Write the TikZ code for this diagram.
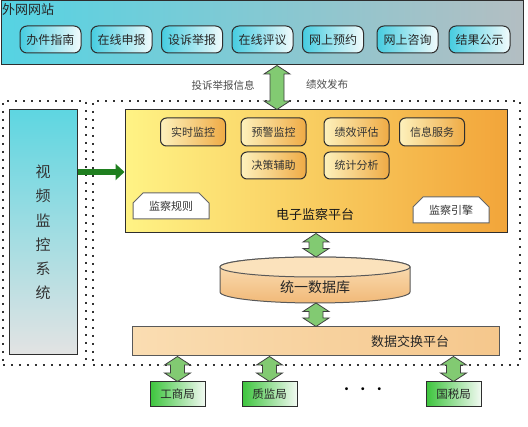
\documentclass[tikz,border=0pt]{standalone}
\usepackage{fontspec}
\newfontfamily\cjk{Noto Sans CJK SC}
\usetikzlibrary{calc,shapes.misc,arrows.meta}
\definecolor{bancyan}{HTML}{55D3E3}
\definecolor{bangray}{HTML}{B3BEC2}
\definecolor{btncyan}{HTML}{45CCE0}
\definecolor{btnwhite}{HTML}{F2FBFC}
\definecolor{platl}{HTML}{FFF385}
\definecolor{platr}{HTML}{F2A53A}
\definecolor{subl}{HTML}{FDF1BC}
\definecolor{subr}{HTML}{EFAB45}
\definecolor{vidtop}{HTML}{5ED6E1}
\definecolor{vidbot}{HTML}{E3E3E3}
\definecolor{xl}{HTML}{FADDB2}
\definecolor{xr}{HTML}{F5C78C}
\definecolor{dbtop}{HTML}{FBE2BC}
\definecolor{dbbot}{HTML}{F1B978}
\definecolor{burl}{HTML}{3CC43C}
\definecolor{burr}{HTML}{F2FAF2}
\definecolor{arrgreen}{HTML}{82CA72}
\definecolor{vidgreen}{HTML}{1F7F1F}
\definecolor{edge}{HTML}{2E2E2E}
\definecolor{dotc}{HTML}{333333}
\newcommand\fatarrow[2]{\draw[fat] let \p1=(#1), \p2=(#2) in
  (\x1,\y1) -- ++(13pt,-8.5pt) -- ++(-6pt,0pt) -- (\x1+7pt,\y2+8.5pt) -- ++(6pt,0pt)
  -- (\x1,\y2) -- ++(-13pt,8.5pt) -- ++(6pt,0pt) -- (\x1-7pt,\y1-8.5pt) -- ++(-6pt,0pt) -- cycle;}
\begin{document}
\begin{tikzpicture}[x=1pt,y=-1pt,
  f/.style={font=\cjk\fontsize{#1}{#1}\selectfont},
  banner/.style={draw=edge, line width=1pt, left color=bancyan, right color=bangray,
    minimum width=522pt, minimum height=64pt, inner sep=0pt, anchor=north west},
  btn/.style={draw=edge, line width=1pt, rounded corners=7pt, left color=btncyan, right color=btnwhite,
    minimum width=61pt, minimum height=27pt, inner sep=0pt, f=12, text=black!85},
  zone/.style={draw=dotc, line width=1.9pt, dash pattern=on 1.9pt off 6.1pt, inner sep=0pt, anchor=north west},
  platform/.style={draw=edge, line width=1pt, left color=platl, right color=platr,
    minimum width=382pt, minimum height=123pt, inner sep=0pt},
  sub/.style={draw=edge, line width=1pt, rounded corners=6pt, left color=subl, right color=subr,
    minimum width=65pt, minimum height=28pt, inner sep=0pt, f=11, text=black!80},
  rulebox/.style={chamfered rectangle, chamfered rectangle corners={north west,north east},
    chamfered rectangle xsep=5pt, chamfered rectangle ysep=5pt, draw=black!60, line width=1pt, fill=white,
    minimum width=76pt, minimum height=26pt, inner sep=0pt, f=11, text=black!80},
  video/.style={draw=edge, line width=1pt, top color=vidtop, bottom color=vidbot,
    minimum width=68pt, minimum height=245pt, inner sep=0pt},
  xchg/.style={draw=black!65, line width=1pt, left color=xl, right color=xr,
    minimum width=367pt, minimum height=29pt, inner sep=0pt},
  bureau/.style={draw=edge, line width=1pt, left color=burl, right color=burr,
    minimum width=55pt, minimum height=25pt, inner sep=0pt, f=11.5, text=black!85},
  fat/.style={fill=arrgreen, draw=black!75, line width=0.8pt, line join=miter},
  vidarr/.style={draw=vidgreen, line width=6pt, -{Triangle[length=9pt,width=16pt]}},
  lbl/.style={f=10.5, text=black!70, inner sep=0pt}
]
\useasboundingbox (0,0) rectangle (528,427);
% zones
\node[zone, minimum width=83pt, minimum height=264pt] (lzone) at (2,100) {};
\node[zone, minimum width=427pt, minimum height=264pt] (rzone) at (92,100) {};
% banner
\node[banner] (web) at (0.5,0.5) {};
\node[f=13, anchor=west, inner sep=0pt, text=black!85] (webtitle) at (2,10) {外网网站};
\node[btn] (b1) at (50.5,39.5) {办件指南};
\node[btn] (b2) at (121.5,39.5) {在线申报};
\node[btn] (b3) at (192,39.5) {设诉举报};
\node[btn] (b4) at (262.5,39.5) {在线评议};
\node[btn] (b5) at (333,39.5) {网上预约};
\node[btn] (b6) at (407.5,39.5) {网上咨询};
\node[btn] (b7) at (479.5,39.5) {结果公示};
% platform
\node[platform] (plat) at (316,171.5) {};
\node[sub] (s1) at (193,132) {实时监控};
\node[sub] (s2) at (273.5,132) {预警监控};
\node[sub] (s3) at (356.5,132) {绩效评估};
\node[sub] (s4) at (432,132) {信息服务};
\node[sub, minimum height=27pt] (s5) at (273.5,165.5) {决策辅助};
\node[sub, minimum height=27pt] (s6) at (356.5,165.5) {统计分析};
\node[rulebox] (rules) at (171,206) {监察规则};
\node[rulebox] (engine) at (451,210) {监察引擎};
\node[f=13, inner sep=0pt, text=black!90] (pltitle) at (315,215) {电子监察平台};
% labels near top arrow
\node[lbl] (lab1) at (223,85) {投诉举报信息};
\node[lbl] (lab2) at (327,85) {绩效发布};
% video system
\node[video] (video) at (43,232.5) {};
\node[f=15, align=center, inner sep=0pt, text=black!80, font=\cjk\fontsize{15}{24.3}\selectfont] (vidtext) at (43,232.5) {视\\频\\监\\控\\系\\统};
\draw[vidarr] (video.east |- 0,172) -- (plat.west |- 0,172);
% database
\path[draw=black!65, line width=1pt, top color=dbtop, bottom color=dbbot]
  (220,267) -- (220,292) arc[start angle=180, end angle=360, x radius=95pt, y radius=11pt]
  -- (410,267) arc[start angle=0, end angle=180, x radius=95pt, y radius=10pt] -- cycle;
\draw[draw=black!65, line width=1pt, fill=dbtop] (315,267) ellipse[x radius=95pt, y radius=10pt];
\node[f=14, inner sep=0pt, text=black!85] (db) at (315,287) {统一数据库};
\coordinate (dbtopc) at (316,257);
\coordinate (dbbotc) at (316,303);
% exchange
\node[xchg] (xchg) at (315.5,341.5) {};
\node[f=13, inner sep=0pt, text=black!85] (xtitle) at (410,341.5) {数据交换平台};
% bureaus
\node[bureau] (gs) at (177.5,394.5) {工商局};
\node[bureau] (zj) at (269.5,394.5) {质监局};
\node[bureau] (gsw) at (453.5,394.5) {国税局};
\node[f=14, inner sep=0pt] (dots) at (363,391) {·\,·\,·};
% fat double arrows
\fatarrow{277,0 |- web.south}{277,0 |- plat.north}
\fatarrow{316,0 |- plat.south}{dbtopc}
\fatarrow{dbbotc}{316,0 |- xchg.north}
\fatarrow{gs.north |- xchg.south}{gs.north}
\fatarrow{zj.north |- xchg.south}{zj.north}
\fatarrow{gsw.north |- xchg.south}{gsw.north}
\end{tikzpicture}
\end{document}
